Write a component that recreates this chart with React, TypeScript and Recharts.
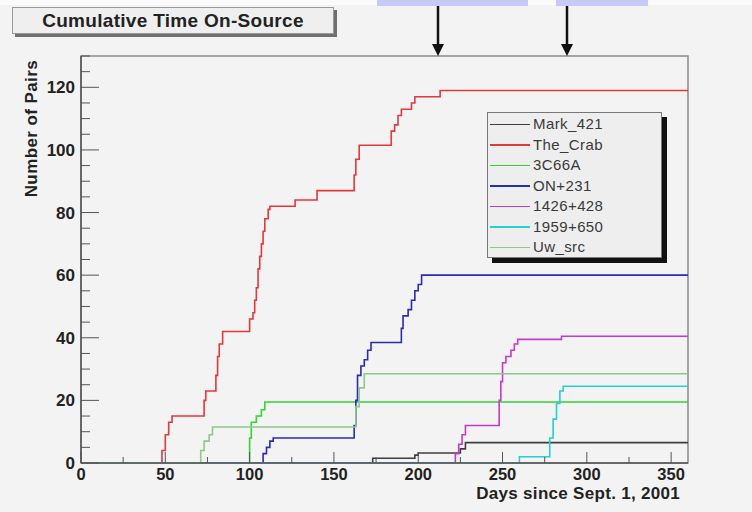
import { Legend, Line, LineChart, ReferenceArea, XAxis, YAxis } from "recharts";

// cumulative pairs per source, as [day, pairs] steps (day 0 = Sept. 1, 2001)
type Step = [number, number];

const mark421: Step[] = [
  [0, 0], [172, 0], [173, 1.5], [197, 1.5], [198, 2.5], [200, 3.2],
  [223, 3.2], [225, 4.5], [228, 6.5], [360, 6.5],
];

const theCrab: Step[] = [
  [0, 0], [47, 0], [48, 4], [50, 9], [52, 13], [54, 15], [72, 15], [73, 20],
  [74, 23], [79, 23], [80, 28], [81, 34], [82, 38], [84, 42], [99, 42],
  [100, 46], [102, 48], [103, 52], [104, 56], [105, 62], [106, 66], [107, 70],
  [108, 74], [109, 78], [111, 81], [112, 82], [126, 82], [127, 84], [139, 84],
  [140, 87], [161, 87], [162, 92], [163, 97], [165, 101.5], [183, 101.5],
  [184, 106], [186, 108], [188, 111], [190, 113], [196, 115], [198, 117],
  [212, 117], [213, 119], [360, 119],
];

const s3C66A: Step[] = [
  [0, 0], [99, 0], [100, 8], [101, 13], [104, 15], [107, 17], [109, 19.5],
  [360, 19.5],
];

const on231: Step[] = [
  [0, 0], [107, 0], [108, 3], [110, 5], [112, 7], [114, 8], [161, 8],
  [162, 12], [163, 20], [164, 28], [166, 31], [168, 33], [170, 36], [172, 38.5],
  [189, 38.5], [190, 43], [191, 47], [194, 49], [196, 52], [198, 55],
  [200, 57], [202, 60], [360, 60],
];

const s1426: Step[] = [
  [0, 0], [221, 0], [222, 3], [224, 6], [226, 9], [228, 12], [247, 12],
  [248, 20], [249, 26], [250, 32], [252, 34], [255, 36], [257, 38],
  [259, 39.5], [284, 39.5], [285, 40.5], [360, 40.5],
];

const s1959: Step[] = [
  [0, 0], [259, 0], [260, 2], [276, 2], [278, 8], [280, 14], [282, 19],
  [284, 23], [286, 24.5], [360, 24.5],
];

const uwSrc: Step[] = [
  [0, 0], [70, 0], [71, 4], [73, 7], [76, 9], [78, 11.5], [161, 11.5],
  [163, 18], [165, 24], [168, 28.5], [360, 28.5],
];

const DAY_TICKS = [0, 25, 50, 75, 100, 125, 150, 175, 200, 225, 250, 275, 300, 325, 350];
const PAIR_TICKS = Array.from({ length: 27 }, (_, i) => i * 5);

const SERIES = [
  { name: "Mark_421", color: "#3f3f3f", steps: mark421 },
  { name: "The_Crab", color: "#e0393e", steps: theCrab },
  { name: "3C66A", color: "#33d433", steps: s3C66A },
  { name: "ON+231", color: "#2b2bb5", steps: on231 },
  { name: "1426+428", color: "#c33cc6", steps: s1426 },
  { name: "1959+650", color: "#27cfcf", steps: s1959 },
  { name: "Uw_src", color: "#8cc98a", steps: uwSrc },
];

const FONT = '"Liberation Sans", Arial, Helvetica, sans-serif';
const BG = "#f3f3f3";

// ROOT-style ticks: pointing into the frame, labels only on majors
function PairsTick(props: any) {
  const { x, y, payload } = props;
  const v = payload.value as number;
  const major = v % 20 === 0;
  const ax = x + 5;
  return (
    <g>
      <line x1={ax} x2={ax + (major ? 18 : 9)} y1={y} y2={y} stroke="#555" />
      {major && (
        <text x={x - 1} y={y + 6} textAnchor="end" fontFamily={FONT} fontWeight="bold" fontSize={17} fill="#222">
          {v}
        </text>
      )}
    </g>
  );
}

function DayTick(props: any) {
  const { x, y, payload } = props;
  const v = payload.value as number;
  const major = v % 50 === 0;
  return (
    <g>
      <line x1={x} x2={x} y1={y} y2={y - (major ? 11 : 6)} stroke="#555" />
      {major && (
        <text x={x} y={y + 17} textAnchor="middle" fontFamily={FONT} fontWeight="bold" fontSize={16.5} fill="#222">
          {v}
        </text>
      )}
    </g>
  );
}

function SourceLegend() {
  return (
    <div
      style={{
        width: 173,
        height: 143,
        paddingTop: 1,
        background: "#eeeeee",
        border: "1px solid #777",
        boxShadow: "5px 5px 0 #111",
        fontFamily: FONT,
        fontSize: 15,
        color: "#3a3a3a",
      }}
    >
      {SERIES.map((s) => (
        <div key={s.name} style={{ height: 20.5, display: "flex", alignItems: "center" }}>
          <div style={{ width: 40, height: 1.5, marginLeft: 2, background: s.color }} />
          <span style={{ marginLeft: 3, letterSpacing: 0.4, lineHeight: "20px" }}>{s.name}</span>
        </div>
      ))}
    </div>
  );
}

export default function App() {
  return (
    <div
      style={{
        position: "fixed",
        left: 0,
        top: 0,
        width: 752,
        height: 512,
        background: BG,
        overflow: "hidden",
      }}
    >
      <div style={{ position: "absolute", left: 0, top: 0, width: 752, height: 5, background: "#fbfbfb" }} />
      <div style={{ position: "absolute", left: 377, top: 0, width: 151, height: 6, background: "#c8c8fa" }} />
      <div style={{ position: "absolute", left: 556, top: 0, width: 92, height: 6, background: "#c8c8fa" }} />

      <LineChart
        width={752}
        height={512}
        margin={{ top: 56, right: 64, bottom: 9, left: 21 }}
        style={{ position: "absolute", left: 0, top: 0 }}
      >
        <ReferenceArea x1={0} x2={360} y1={0} y2={130} fill="none" stroke="#8a8a8a" strokeWidth={1.5} />
        <XAxis
          type="number"
          dataKey="day"
          domain={[0, 360]}
          ticks={DAY_TICKS}
          interval={0}
          height={40}
          tickSize={0}
          tickMargin={0}
          tickLine={false}
          tick={<DayTick />}
          axisLine={{ stroke: "#555", strokeWidth: 1.5 }}
          allowDataOverflow
          label={{
            content: (p: any) => (
              <text
                x={p.viewBox.x + p.viewBox.width - 8}
                y={p.viewBox.y + 36}
                textAnchor="end"
                fontFamily={FONT}
                fontWeight="bold"
                fontSize={17}
                letterSpacing={0.3}
                fill="#222"
              >
                Days since Sept. 1, 2001
              </text>
            ),
          }}
        />
        <YAxis
          type="number"
          domain={[0, 130]}
          ticks={PAIR_TICKS}
          interval={0}
          width={60}
          tickSize={0}
          tickMargin={5}
          tickLine={false}
          tick={<PairsTick />}
          axisLine={{ stroke: "#555", strokeWidth: 1.5 }}
          allowDataOverflow
          label={{
            content: (p: any) => {
              const x = p.viewBox.x + 16;
              const y = p.viewBox.y + 4;
              return (
                <text
                  x={x}
                  y={y}
                  transform={`rotate(-90 ${x} ${y})`}
                  textAnchor="end"
                  fontFamily={FONT}
                  fontWeight="bold"
                  fontSize={17}
                  letterSpacing={0.4}
                  fill="#222"
                >
                  Number of Pairs
                </text>
              );
            },
          }}
        />
        {SERIES.map((s) => (
          <Line
            key={s.name}
            name={s.name}
            data={s.steps.map(([day, pairs]) => ({ day, pairs }))}
            dataKey="pairs"
            type="stepAfter"
            stroke={s.color}
            strokeWidth={1.6}
            dot={false}
            isAnimationActive={false}
          />
        ))}
        <Legend
          layout="vertical"
          align="center"
          verticalAlign="middle"
          wrapperStyle={{ left: 487, top: 112, width: 175 }}
          content={() => <SourceLegend />}
        />
      </LineChart>

      <div
        style={{
          position: "absolute",
          left: 12,
          top: 7,
          width: 320,
          height: 25,
          background: "#efefef",
          border: "1px solid #999",
          boxShadow: "3px 3px 0 #6f6f6f",
          fontFamily: FONT,
          fontWeight: "bold",
          fontSize: 19,
          letterSpacing: 0.3,
          color: "#222",
          textAlign: "center",
          lineHeight: "25px",
        }}
      >
        Cumulative Time On-Source
      </div>

      <svg width={752} height={70} style={{ position: "absolute", left: 0, top: 0 }}>
        {[438, 567].map((x) => (
          <g key={x}>
            <line x1={x} x2={x} y1={6} y2={46} stroke="#111" strokeWidth={2.5} />
            <polygon points={`${x - 6},${44} ${x + 6},${44} ${x},${56}`} fill="#111" />
          </g>
        ))}
      </svg>
    </div>
  );
}
